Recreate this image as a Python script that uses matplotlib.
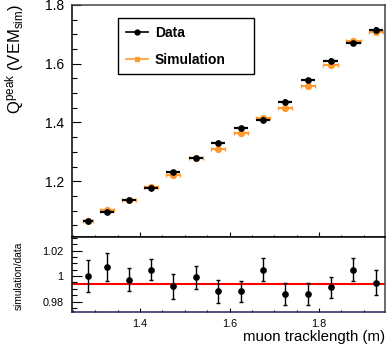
import matplotlib
matplotlib.use("Agg")
import matplotlib.pyplot as plt
from matplotlib.lines import Line2D
from matplotlib.ticker import MultipleLocator, FixedLocator, FuncFormatter

plt.rcParams['font.family'] = ['Liberation Sans', 'DejaVu Sans']
plt.rcParams['mathtext.fontset'] = 'custom'
plt.rcParams['mathtext.rm'] = 'Liberation Sans'
plt.rcParams['mathtext.it'] = 'Liberation Sans:italic'
plt.rcParams['mathtext.bf'] = 'Liberation Sans:bold'

# ---- data ----
tracklength = [1.284, 1.326, 1.375, 1.424, 1.474, 1.525, 1.575, 1.625,
               1.675, 1.724, 1.775, 1.826, 1.877, 1.927]
tracklength_err = [0.011, 0.016, 0.016, 0.016, 0.016, 0.016, 0.016, 0.016,
                   0.016, 0.016, 0.016, 0.016, 0.016, 0.016]
qpeak_data = [1.065, 1.095, 1.136, 1.176, 1.230, 1.279, 1.329, 1.380,
              1.409, 1.470, 1.544, 1.610, 1.669, 1.715]
qpeak_data_err = [0.006, 0.007, 0.007, 0.007, 0.008, 0.008, 0.008, 0.008,
                  0.009, 0.009, 0.009, 0.010, 0.010, 0.010]
qpeak_sim = [1.065, 1.101, 1.136, 1.181, 1.221, 1.279, 1.310, 1.364,
             1.414, 1.448, 1.523, 1.594, 1.677, 1.707]
qpeak_sim_err = [0.004, 0.004, 0.004, 0.005, 0.005, 0.005, 0.005, 0.005,
                 0.006, 0.006, 0.006, 0.006, 0.007, 0.007]
ratio = [1.000, 1.0068, 0.9971, 1.005, 0.9919, 0.9992, 0.988, 0.988,
         1.005, 0.9856, 0.9856, 0.9911, 1.005, 0.9948]
ratio_err = [0.0127, 0.011, 0.009, 0.008, 0.010, 0.009, 0.009, 0.0082,
             0.0088, 0.0086, 0.0086, 0.0085, 0.0089, 0.010]
fit_ratio = 0.9937

x_range = (1.248, 1.9475)
legend_labels = ['Data', 'Simulation']

BLACK = 'black'
ORANGE = '#ff9a2e'
NAVY = '#23235a'

W, H = 387, 347
fig = plt.figure(figsize=(W / 100, H / 100), dpi=100)

def fx(px):
    return px / W

def fy(py):
    return 1 - py / H

ax = fig.add_axes([fx(72), fy(237), fx(385) - fx(72), fy(5) - fy(237)])
axr = fig.add_axes([fx(72), fy(312), fx(385) - fx(72), fy(237) - fy(312)])

# ---- top panel ----
ax.errorbar(tracklength, qpeak_sim, xerr=tracklength_err, yerr=qpeak_sim_err,
            fmt='o', color=ORANGE, ms=4.2, elinewidth=1.4, capsize=1.2,
            capthick=1.0, zorder=2)
ax.errorbar(tracklength, qpeak_data, xerr=tracklength_err, yerr=qpeak_data_err,
            fmt='o', color=BLACK, ms=3.8, elinewidth=1.6, capsize=0, zorder=3)

ax.set_xlim(*x_range)
ax.set_ylim(1.01, 1.8)
ax.xaxis.set_major_locator(FixedLocator([1.4, 1.6, 1.8]))
ax.xaxis.set_minor_locator(MultipleLocator(0.05))
ax.yaxis.set_major_locator(MultipleLocator(0.2))
ax.yaxis.set_minor_locator(MultipleLocator(0.05))
ax.tick_params(axis='x', which='both', direction='in', labelbottom=False,
               top=False)
ax.tick_params(axis='x', which='major', length=3.6, width=0.8)
ax.tick_params(axis='x', which='minor', length=1.8, width=0.8)
ax.tick_params(axis='y', which='major', direction='in', length=6.5, width=0.8,
               labelsize=10, pad=5.5, right=False)
ax.tick_params(axis='y', which='minor', direction='in', length=3.6, width=0.8,
               right=False)
ax.yaxis.set_major_formatter(FuncFormatter(lambda v, p: '%g' % round(v, 3)))
for s in ax.spines.values():
    s.set_linewidth(1.1)
ax.spines['bottom'].set_color(NAVY)
ax.spines['right'].set_color('#444444')
ax.spines['top'].set_color('#444444')

handles = [
    Line2D([0], [0], color=BLACK, marker='o', ms=3.5, lw=1.2),
    Line2D([0], [0], color=ORANGE, marker='s', ms=3.5, lw=1.2),
]
leg = ax.legend(handles, legend_labels, loc='upper left',
                bbox_to_anchor=(0.147, 0.703, 0.434, 0.241), mode='expand',
                borderaxespad=0, frameon=True, fancybox=False,
                edgecolor='black', framealpha=1, handlelength=1.6,
                handletextpad=0.5, labelspacing=0.95, borderpad=0.55,
                prop={'weight': 'bold', 'size': 10})
leg.get_frame().set_linewidth(1.0)

# ---- ratio panel ----
axr.axhline(fit_ratio, color='red', lw=1.5, zorder=1)
axr.errorbar(tracklength, ratio, yerr=ratio_err, fmt='o', color=BLACK,
             ms=3.8, elinewidth=1.0, capsize=1.2, capthick=1.0, zorder=3)
axr.set_xlim(*x_range)
axr.set_ylim(0.9718, 1.0306)
axr.xaxis.set_major_locator(FixedLocator([1.4, 1.6, 1.8]))
axr.xaxis.set_minor_locator(MultipleLocator(0.05))
axr.yaxis.set_major_locator(FixedLocator([0.98, 1.0, 1.02]))
axr.yaxis.set_minor_locator(MultipleLocator(0.005))
axr.yaxis.set_major_formatter(FuncFormatter(lambda v, p: '%g' % round(v, 4)))
axr.xaxis.set_major_formatter(FuncFormatter(lambda v, p: '%g' % round(v, 3)))
axr.tick_params(axis='x', which='both', direction='in', top=False,
                labelsize=7.8, pad=5)
axr.tick_params(axis='x', which='major', length=3.2, width=0.8)
axr.tick_params(axis='x', which='minor', length=1.8, width=0.8)
axr.tick_params(axis='y', which='major', direction='in', length=7, width=0.8,
                labelsize=7.8, pad=6, right=False)
axr.tick_params(axis='y', which='minor', direction='in', length=3.6,
                width=0.8, right=False)
for s in axr.spines.values():
    s.set_linewidth(1.1)
axr.spines['bottom'].set_color(NAVY)
axr.spines['right'].set_color('#444444')

# ---- titles ----
fig.text(fx(15), fy(4), r'$\mathregular{Q^{peak}\ (VEM_{sim})}$',
         rotation=90, ha='center', va='top', fontsize=12)
fig.text(fx(19), fy(276), 'simulation/data', rotation=90, ha='center',
         va='center', fontsize=7.3)
fig.text(fx(385), fy(337), 'muon tracklength (m)', ha='right', va='center',
         fontsize=10.8)

fig.savefig('out.png', dpi=100)
